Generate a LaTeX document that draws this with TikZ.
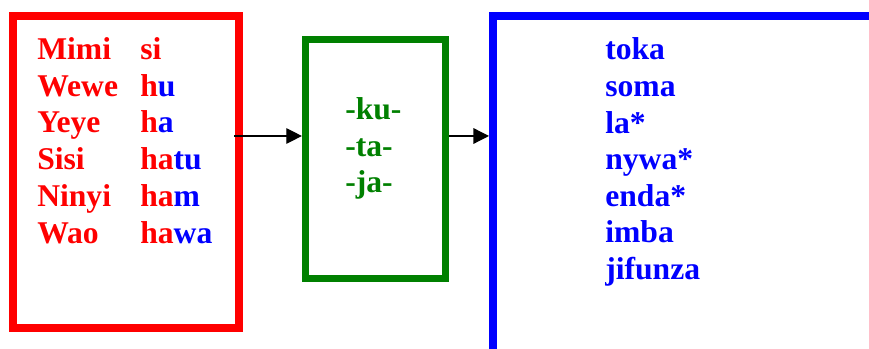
\documentclass[tikz,border=0pt]{standalone}
\usepackage{fontspec}
\setmainfont{Liberation Serif}
\usetikzlibrary{arrows.meta}
\definecolor{darkgreen}{RGB}{0,128,0}

\begin{document}
\begin{tikzpicture}[
		word/.style={anchor=base west, inner sep=0pt, font=\bfseries\fontsize{22.5}{27}\selectfont},
		arr/.style={-{Triangle[length=3.9mm,width=3.9mm]}, line width=0.9pt}
	]
		\begingroup
		\useasboundingbox (0,0) rectangle (21.725,8.725);
		\clip (0,0) rectangle (21.725,8.725);
		
		\node[draw=red, line width=2mm, minimum width=5.65cm, minimum height=7.8cm] (subj) at (3.15, 4.425) {};
		\node[draw=darkgreen, line width=1.75mm, minimum width=3.49cm, minimum height=5.975cm] (tense) at (9.38, 4.75) {};
		\node[draw=blue, line width=2mm, minimum width=12cm, minimum height=10cm] (verb) at (18.325, 3.3125) {};
		
		% pronouns and negative prefixes
		\foreach \pron/\pre/\suf [count=\i from 0] in {Mimi/si/, Wewe/h/u, Yeye/h/a, Sisi/ha/tu, Ninyi/ha/m, Wao/ha/wa}
		{
			\node[word, red] (pron\i) at (0.925, 7.2425-0.92*\i) {\pron};
			\node[word, red] (neg\i) at (3.5, 7.2425-0.92*\i) {\pre\textcolor{blue}{\suf}};
		}
		
		% tense markers
		\foreach \inf [count=\i from 0] in {-ku-, -ta-, -ja-}
			\node[word, darkgreen] (inf\i) at (8.625, 5.725-0.9125*\i) {\inf};
		
		% verb stems
		\foreach \stem [count=\i from 0] in {toka, soma, la*, nywa*, enda*, imba, jifunza}
			\node[word, blue] (stem\i) at (15.125, 7.225-0.914*\i) {\stem};
		
		\coordinate (level) at (0, 5.325);
		\draw[arr, shorten <=-2.25mm] (subj.east |- level) -- (tense.west |- level);
		\draw[arr] (tense.east |- level) -- (verb.west |- level);
		\endgroup
\end{tikzpicture}
\end{document}
